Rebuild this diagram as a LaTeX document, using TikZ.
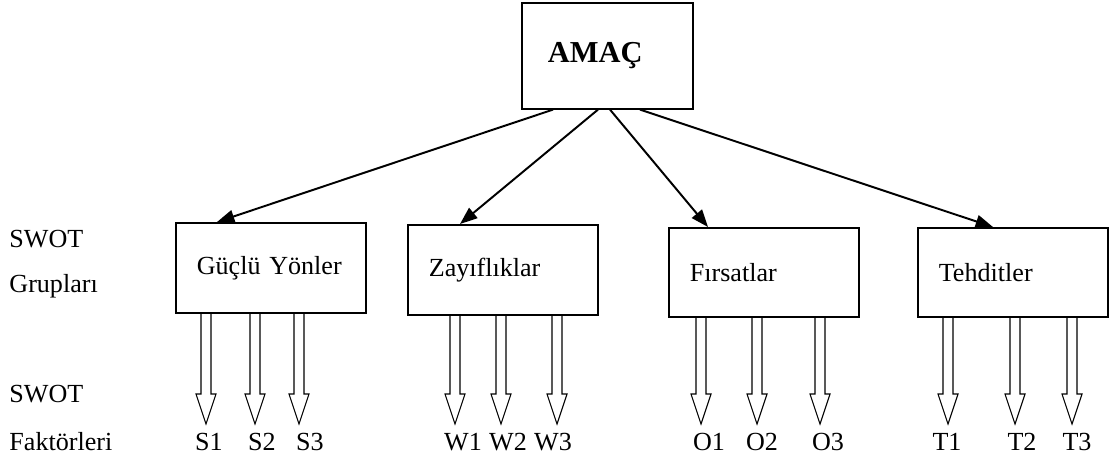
\documentclass[tikz,border=0pt]{standalone}
\usepackage{fontspec}
\setmainfont{Liberation Serif}
\usetikzlibrary{arrows.meta,calc}

\newcommand{\hollowarrow}[2]{%
  \draw[line width=0.5pt] let \p1=(#1), \p2=(#2) in
    (\x2-2.3pt,\y1) -- (\x2-2.3pt,\y2+13.8pt) -- (\x2-4.6pt,\y2+13.8pt) -- (\x2,\y2)
    -- (\x2+4.6pt,\y2+13.8pt) -- (\x2+2.3pt,\y2+13.8pt) -- (\x2+2.3pt,\y1);}

\tikzset{
  grp/.style={draw, line width=0.7pt, anchor=north west, align=left,
    text width=68pt, inner xsep=9.7pt, minimum height=41.4pt,
    font=\fontsize{12}{14}\selectfont},
  lbl/.style={inner sep=0pt, anchor=base, font=\fontsize{12}{14}\selectfont},
  side/.style={lbl, anchor=base west},
  arr/.style={line width=0.9pt, -{Triangle[length=8pt,width=6pt]}}
}

\begin{document}
\begin{tikzpicture}[x=0.46pt, y=-0.46pt]
    \useasboundingbox (0,0) rectangle (1110,463);

    \node[draw, line width=0.7pt, anchor=north west, align=left, text width=54.7pt,
      inner xsep=12pt, minimum height=48.8pt, font=\fontsize{14}{16}\selectfont\bfseries]
      (amac) at (521,2) {AMAÇ};

    \node[grp] (guclu) at (175,222) {Güçlü Yönler};
    \node[grp] (zayif) at (407,224) {Zayıflıklar};
    \node[grp, minimum height=41pt] (firsat) at (668,227) {Fırsatlar};
    \node[grp, minimum height=41pt] (tehdit) at (917,227) {Tehditler};

    \draw[arr] ($(amac.south west)+(32,0)$) -- ($(guclu.north west)+(42,0)$);
    \draw[arr] ($(amac.south west)+(77,0)$) -- ($(zayif.north west)+(53,0)$);
    \draw[arr] ($(amac.south west)+(89,0)$) -- ($(firsat.north west)+(40,0)$);
    \draw[arr] ($(amac.south west)+(119,0)$) -- ($(tehdit.north west)+(76,0)$);

    \node[side] (swot1) at (9,247) {SWOT};
    \node[side] (grup) at (9,292) {Grupları};
    \node[side] (swot2) at (9,402) {SWOT};
    \node[side] (faktor) at (9,450) {Faktörleri};

    \foreach \bx/\ax/\lx/\lab in {guclu/206/209/S1, guclu/255/262/S2, guclu/299/310/S3,
        zayif/455/463/W1, zayif/501/508/W2, zayif/557/553/W3,
        firsat/701/709/O1, firsat/757/762/O2, firsat/820/828/O3,
        tehdit/948/947/T1, tehdit/1015/1022/T2, tehdit/1072/1077/T3} {
      \coordinate (tip\lab) at (\ax,424);
      \node[lbl] (\lab) at (\lx,450) {\lab};
      \hollowarrow{\bx.south}{tip\lab}
    }
\end{tikzpicture}
\end{document}
